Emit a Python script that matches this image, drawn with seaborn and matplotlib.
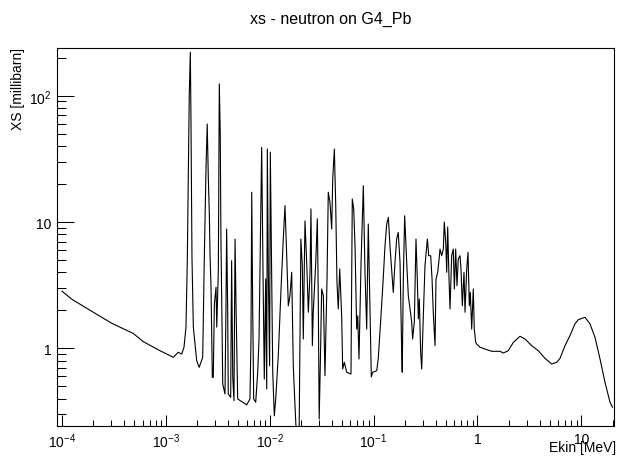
import matplotlib
matplotlib.use("Agg")
import matplotlib.pyplot as plt
import seaborn as sns
import pandas as pd
from matplotlib.ticker import FixedLocator, FixedFormatter, NullFormatter, LogLocator

# ---------------- data ----------------
energy_mev = [
    1.0e-4, 1.245e-4, 2.01e-4, 3.02e-4, 4.88e-4, 6.08e-4, 8.81e-4, 1.183e-3, 1.32e-3, 1.426e-3,
    1.50e-3, 1.567e-3, 1.614e-3, 1.65e-3, 1.686e-3, 1.726e-3, 1.751e-3, 1.79e-3, 1.845e-3, 1.986e-3,
    2.10e-3, 2.27e-3, 2.35e-3, 2.44e-3, 2.51e-3, 2.57e-3, 2.63e-3, 2.67e-3, 2.73e-3, 2.81e-3,
    2.87e-3, 2.94e-3, 3.05e-3, 3.10e-3, 3.21e-3, 3.28e-3, 3.35e-3, 3.40e-3, 3.46e-3, 3.54e-3,
    3.72e-3, 3.80e-3, 3.86e-3, 3.95e-3, 4.00e-3, 4.22e-3, 4.31e-3, 4.42e-3, 4.54e-3, 4.65e-3,
    4.76e-3, 4.93e-3, 6.02e-3, 6.47e-3, 6.62e-3, 6.73e-3, 6.87e-3, 7.03e-3, 7.35e-3, 7.68e-3,
    7.91e-3, 8.14e-3, 8.39e-3, 8.64e-3, 8.89e-3, 9.17e-3, 9.38e-3, 9.51e-3, 9.72e-3, 1.0e-2,
    1.016e-2, 1.047e-2, 1.072e-2, 1.11e-2, 1.145e-2, 1.212e-2, 1.288e-2, 1.354e-2, 1.406e-2, 1.461e-2,
    1.514e-2, 1.57e-2, 1.632e-2, 1.69e-2, 1.756e-2, 1.824e-2, 1.92e-2, 2.0e-2, 2.065e-2, 2.11e-2,
    2.19e-2, 2.275e-2, 2.36e-2, 2.45e-2, 2.50e-2, 2.58e-2, 2.63e-2, 2.78e-2, 2.88e-2, 2.94e-2,
    3.0e-2, 3.08e-2, 3.17e-2, 3.29e-2, 3.41e-2, 3.57e-2, 3.67e-2, 3.81e-2, 3.96e-2, 4.05e-2,
    4.20e-2, 4.33e-2, 4.45e-2, 4.58e-2, 4.73e-2, 4.94e-2, 5.05e-2, 5.24e-2, 5.52e-2, 6.07e-2,
    6.25e-2, 6.45e-2, 6.64e-2, 6.89e-2, 7.05e-2, 7.25e-2, 7.59e-2, 7.98e-2, 8.28e-2, 8.60e-2,
    8.91e-2, 9.53e-2, 9.82e-2, 0.1074, 0.111, 0.117, 0.124, 0.129, 0.134, 0.139,
    0.144, 0.150, 0.155, 0.161, 0.167, 0.173, 0.180, 0.1866, 0.189, 0.1936,
    0.1995, 0.2087, 0.2163, 0.2244, 0.2332, 0.238, 0.247, 0.2564, 0.264, 0.270,
    0.276, 0.2844, 0.291, 0.301, 0.313, 0.330, 0.340, 0.355, 0.366, 0.376,
    0.391, 0.3996, 0.415, 0.4295, 0.4365, 0.453, 0.470, 0.480, 0.4955, 0.5065,
    0.5176, 0.533, 0.545, 0.5656, 0.586, 0.600, 0.618, 0.636, 0.6546, 0.680,
    0.695, 0.716, 0.743, 0.760, 0.789, 0.812, 0.836, 0.8545, 0.881, 0.913,
    0.933, 0.963, 0.984, 1.06, 1.18, 1.373, 1.65, 1.775, 1.98, 2.22,
    2.57, 2.87, 3.33, 3.855, 4.47, 5.19, 5.80, 6.24, 6.97, 7.78,
    8.69, 9.35, 10.86, 12.13, 13.55, 15.14, 16.9, 18.9, 20.0,
]

xs_millibarn = [
    2.84, 2.45, 1.93, 1.58, 1.31, 1.13, 0.957, 0.849, 0.93, 0.90,
    1.02, 1.47, 4.94, 24.0, 103, 221, 63.4, 5.25, 1.47, 0.80,
    0.707, 0.849, 4.94, 25.5, 59.7, 22.7, 11.6, 5.58, 3.04, 0.589,
    0.589, 2.24, 3.04, 1.47, 4.11, 124, 49.8, 7.57, 2.53, 0.521,
    0.435, 1.99, 8.80, 1.99, 0.435, 0.409, 4.94, 0.589, 0.385, 7.33,
    1.99, 0.397, 0.357, 0.397, 1.185, 17.2, 2.17, 0.397, 0.374, 0.646,
    1.185, 6.49, 39.0, 4.0, 0.571, 3.54, 0.476, 37.8, 4.0, 0.728,
    35.6, 4.0, 0.646, 0.292, 0.397, 0.874, 2.95, 7.33, 13.5, 5.41,
    2.17, 2.61, 4.0, 0.728, 0.351, 0.18, 0.18, 7.33, 4.51, 1.185,
    10.2, 4.80, 1.93, 4.0, 12.7, 1.05, 1.93, 4.80, 10.6, 2.61,
    0.275, 0.775, 2.95, 2.61, 0.607, 3.54, 17.2, 14.3, 8.80, 21.9,
    37.8, 13.5, 3.33, 2.05, 4.25, 1.81, 0.686, 0.775, 0.646, 0.626,
    15.2, 12.7, 6.49, 1.42, 1.81, 0.823, 4.80, 19.4, 4.0, 1.42,
    9.64, 0.593, 0.646, 0.665, 0.823, 1.61, 3.54, 6.49, 9.64, 10.9,
    6.49, 4.0, 2.77, 4.80, 7.33, 8.28, 4.80, 0.987, 0.646, 3.54,
    11.2, 4.80, 2.61, 2.05, 1.61, 1.185, 1.61, 7.33, 3.54, 1.71,
    2.46, 0.93, 0.686, 1.71, 4.51, 7.33, 5.41, 5.41, 3.54, 1.93,
    1.05, 3.54, 4.0, 5.25, 6.11, 5.41, 6.11, 10.0, 6.91, 4.0,
    9.13, 3.54, 2.05, 5.41, 6.11, 2.95, 6.11, 3.13, 5.09, 5.41,
    4.25, 2.17, 4.0, 1.93, 4.25, 5.75, 2.17, 2.77, 1.42, 2.95,
    1.42, 1.116, 1.08, 1.02, 0.987, 0.947, 0.947, 0.918, 0.957, 1.116,
    1.245, 1.185, 1.05, 0.957, 0.833, 0.751, 0.775, 0.833, 1.05, 1.26,
    1.56, 1.685, 1.76, 1.56, 1.22, 0.823, 0.538, 0.374, 0.341,
]

x_tick_values = [1e-4, 1e-3, 1e-2, 1e-1, 1, 10]
x_tick_labels = ["10$^{-4}$", "10$^{-3}$", "10$^{-2}$", "10$^{-1}$", "1", "10"]
y_tick_values = [1, 10, 100]
y_tick_labels = ["1", "10", "10$^{2}$"]

title_text = "xs - neutron on G4_Pb"
x_title = "Ekin [MeV]"
y_title = "XS [millibarn]"

# ---------------- style ----------------
sns.set_theme(style="white")
plt.rcParams['font.family'] = ['Liberation Sans', 'DejaVu Sans']
plt.rcParams['mathtext.fontset'] = 'custom'
plt.rcParams['mathtext.rm'] = 'Liberation Sans'
plt.rcParams['mathtext.it'] = 'Liberation Sans:italic'
plt.rcParams['mathtext.bf'] = 'Liberation Sans:bold'

W, H = 619, 464
fig = plt.figure(figsize=(W / 100, H / 100), dpi=100)
fig.patch.set_facecolor("white")
left, right, top, bottom = 57.3, 614.0, 48.5, 427.0
ax = fig.add_axes([left / W, 1 - bottom / H, (right - left) / W, (bottom - top) / H])
ax.set_facecolor("white")

df = pd.DataFrame({"E": energy_mev, "xs": xs_millibarn})
sns.lineplot(data=df, x="E", y="xs", ax=ax, color="black", linewidth=0.8,
             sort=False, estimator=None, legend=False)

ax.set_xscale("log")
ax.set_yscale("log")
ax.set_xlim(9.05e-5, 20.64)
ax.set_ylim(0.2426, 240.8)

ax.xaxis.set_major_locator(FixedLocator(x_tick_values))
ax.xaxis.set_major_formatter(FixedFormatter(x_tick_labels))
ax.xaxis.set_minor_locator(LogLocator(base=10, subs=range(2, 10), numticks=20))
ax.xaxis.set_minor_formatter(NullFormatter())
ax.yaxis.set_major_locator(FixedLocator(y_tick_values))
ax.yaxis.set_major_formatter(FixedFormatter(y_tick_labels))
ax.yaxis.set_minor_locator(LogLocator(base=10, subs=range(2, 10), numticks=20))
ax.yaxis.set_minor_formatter(NullFormatter())

ax.tick_params(which="both", direction="in", bottom=True, left=True, top=False, right=False,
               color="black", width=0.75, labelcolor="black", labelsize=10)
ax.tick_params(axis="x", which="major", length=8, pad=4)
ax.tick_params(axis="x", which="minor", length=4)
ax.tick_params(axis="y", which="major", length=12.5, pad=4)
ax.tick_params(axis="y", which="minor", length=6.5)
for s in ax.spines.values():
    s.set_color("black")
    s.set_linewidth(0.8)
ax.set_xlabel("")
ax.set_ylabel("")
ax.grid(False)

fig.text(331 / W, 1 - 19 / H, title_text, ha="center", va="center", fontsize=11.5, color="black")
fig.text(616 / W, 1 - 448 / H, x_title, ha="right", va="center", fontsize=10, color="black")
fig.text(18.3 / W, 1 - 48 / H, y_title, ha="center", va="top", rotation=90, fontsize=10, color="black")

fig.savefig("out.png", dpi=100, facecolor="white")
